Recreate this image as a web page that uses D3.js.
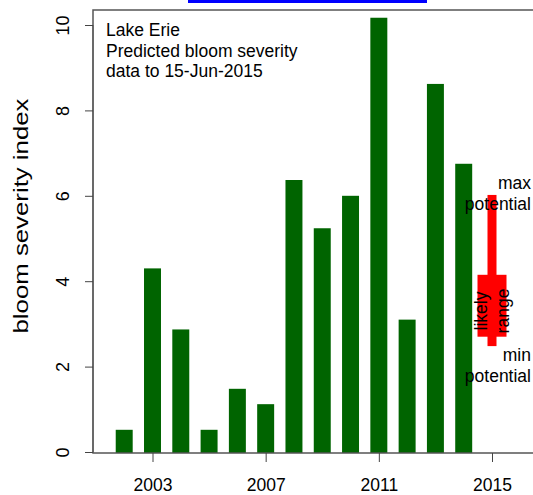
<!DOCTYPE html>
<html>
    <head>
        <script src="https://d3js.org/d3.v7.min.js"></script>
        <style>
            body { margin: 0; background: #fff; overflow: hidden; }
            text { font-family: "Liberation Sans", Arial, sans-serif; fill: #000; }
        </style>
    </head>
    <body>
        <div id="chart-container"></div>
        <script>
            // Data
            var years = [2002, 2003, 2004, 2005, 2006, 2007, 2008, 2009, 2010, 2011, 2012, 2013, 2014];
            var severity = [0.52, 4.3, 2.87, 0.52, 1.48, 1.12, 6.37, 5.24, 6.0, 10.17, 3.1, 8.62, 6.75];
            var forecastYear = 2015;
            var potentialRange = [2.48, 6.02];   // min / max potential
            var likelyRange = [2.7, 4.15];
            var xTicks = [2003, 2007, 2011, 2015];
            var yTicks = [0, 2, 4, 6, 8, 10];
            var noteLines = ["Lake Erie", "Predicted bloom severity", "data to 15-Jun-2015"];

            var width = 533, height = 495;
            var box = {left: 93, top: 10, bottom: 453, right: 540};
            var fs = 17.5;

            var svg = d3.select("#chart-container")
                .append("svg")
                    .attr("width", width)
                    .attr("height", height)
                    .style("display", "block");

            var x = d3.scaleLinear()
                .domain([2003, 2015])
                .range([152.5, 492]);

            var y = d3.scaleLinear()
                .domain([0, 10])
                .range([452, 25]);

            var barW = x(2003.3) - x(2003);

            // blue link underline at top
            svg.append("rect")
                .attr("x", 188).attr("y", 0)
                .attr("width", 239).attr("height", 3)
                .style("fill", "#0000ff");

            // bars
            svg.append("g")
                .selectAll("rect")
                .data(years)
                .enter()
                .append("rect")
                    .attr("x", function(d) { return x(d) - barW; })
                    .attr("y", function(d, i) { return y(severity[i]); })
                    .attr("width", barW * 2)
                    .attr("height", function(d, i) { return box.bottom - y(severity[i]); })
                    .style("fill", "#006400");

            // forecast: potential (thin) and likely (thick)
            svg.append("rect")
                .attr("x", x(forecastYear) - 4.5)
                .attr("y", y(potentialRange[1]))
                .attr("width", 9)
                .attr("height", y(potentialRange[0]) - y(potentialRange[1]))
                .style("fill", "#ff0000");

            svg.append("rect")
                .attr("x", x(forecastYear) - 14.5)
                .attr("y", y(likelyRange[1]))
                .attr("width", 29)
                .attr("height", y(likelyRange[0]) - y(likelyRange[1]))
                .style("fill", "#ff0000");

            // forecast labels
            var lblX = 531;
            svg.append("text").attr("x", lblX).attr("y", y(potentialRange[1]) - 6)
                .attr("text-anchor", "end").attr("font-size", fs).text("max");
            svg.append("text").attr("x", lblX).attr("y", y(potentialRange[1]) + 15)
                .attr("text-anchor", "end").attr("font-size", fs).text("potential");
            svg.append("text").attr("x", lblX).attr("y", y(potentialRange[0]) + 15)
                .attr("text-anchor", "end").attr("font-size", fs).text("min");
            svg.append("text").attr("x", lblX).attr("y", y(potentialRange[0]) + 36)
                .attr("text-anchor", "end").attr("font-size", fs).text("potential");

            var midLikely = 311;
            svg.append("text")
                .attr("transform", "translate(" + (x(forecastYear) - 5) + "," + midLikely + ") rotate(-90)")
                .attr("text-anchor", "middle").attr("font-size", fs).text("likely");
            svg.append("text")
                .attr("transform", "translate(" + (x(forecastYear) + 17) + "," + midLikely + ") rotate(-90)")
                .attr("text-anchor", "middle").attr("font-size", fs).text("range");

            // plot frame
            svg.append("rect")
                .attr("x", box.left).attr("y", box.top)
                .attr("width", box.right - box.left)
                .attr("height", box.bottom - box.top)
                .style("fill", "none")
                .style("stroke", "#555")
                .style("stroke-width", 1.5);

            // X axis
            var xAxis = svg.append("g")
                .attr("transform", "translate(0," + box.bottom + ")")
                .call(d3.axisBottom(x).tickValues(xTicks).tickFormat(d3.format("d"))
                    .tickSize(9).tickPadding(17));
            xAxis.select(".domain").remove();
            xAxis.selectAll("line").style("stroke", "#444");
            xAxis.selectAll("text").attr("font-size", fs)
                .style("font-family", "Liberation Sans, Arial, sans-serif");

            // Y axis
            var yAxis = svg.append("g")
                .attr("transform", "translate(" + box.left + ",0)")
                .call(d3.axisLeft(y).tickValues(yTicks).tickSize(8).tickPadding(0));
            yAxis.select(".domain").attr("d", "M0," + y(0) + "V" + y(10)).style("stroke", "#555");
            yAxis.selectAll("line").style("stroke", "#444");
            yAxis.selectAll("text")
                .attr("font-size", 18)
                .attr("x", null)
                .style("font-family", "Liberation Sans, Arial, sans-serif")
                .attr("text-anchor", "middle")
                .attr("transform", "translate(-30,0) rotate(-90)")
                .attr("y", 0)
                .attr("dy", "0.35em");

            svg.append("text")
                .attr("transform", "translate(28,216) rotate(-90)")
                .attr("text-anchor", "middle")
                .attr("font-size", 21)
                .attr("textLength", 235)
                .attr("lengthAdjust", "spacingAndGlyphs")
                .text("bloom severity index");

            // note in the corner
            svg.append("g")
                .selectAll("text")
                .data(noteLines)
                .enter()
                .append("text")
                    .attr("x", 106)
                    .attr("y", function(d, i) { return 36 + i * 20.5; })
                    .attr("font-size", fs)
                    .text(function(d) { return d; });
        </script>
    </body>
</html>
